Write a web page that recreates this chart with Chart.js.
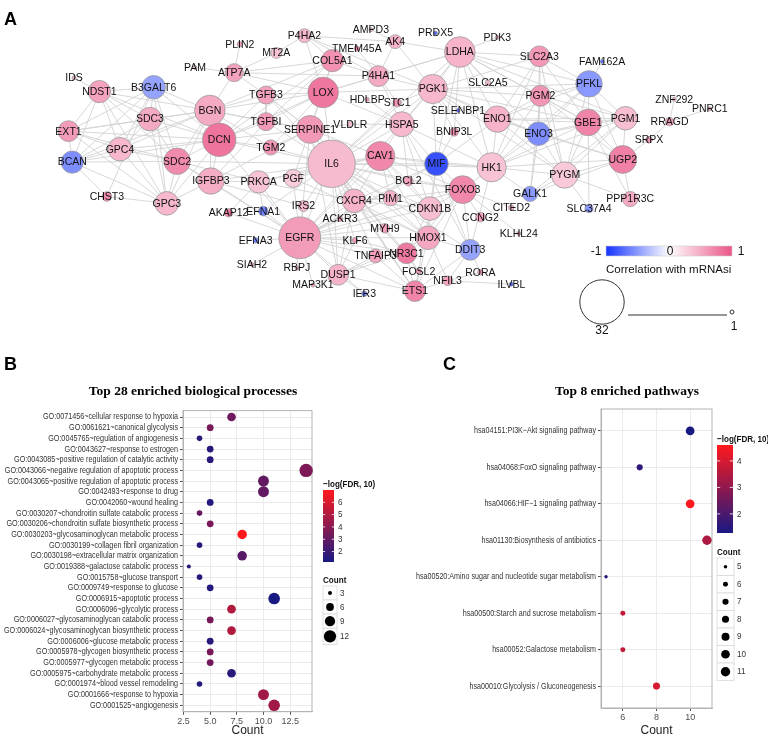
<!DOCTYPE html>
<html>
<head>
<meta charset="utf-8">
<script src="https://cdn.jsdelivr.net/npm/chart.js@4.4.1/dist/chart.umd.min.js"></script>
<style>
html, body { margin: 0; padding: 0; background: #fff; }
#wrap { position: relative; width: 768px; height: 738px; overflow: hidden; }
.box { position: absolute; }
</style>
</head>
<body>
<div id="wrap">
  <div class="box" style="left:0;top:0;width:768px;height:350px"><canvas id="netChart"></canvas></div>
  <div class="box" style="left:0;top:350px;width:375px;height:388px"><canvas id="goChart"></canvas></div>
  <div class="box" style="left:375px;top:350px;width:393px;height:388px"><canvas id="keggChart"></canvas></div>
</div>
<script>
// ---- panel A : network (layout) ----
var geneNames = ['IDS','PAM','PLIN2','NDST1','B3GALT6','ATP7A','MT2A','P4HA2','AMPD3','TMEM45A','AK4','PRDX5','PDK3','LDHA','COL5A1','P4HA1','PGK1','SLC2A5','SLC2A3','FAM162A','PFKL','PGM2','ZNF292','PNRC1','BGN','TGFB3','LOX','HDLBP','STC1','SELENBP1','ENO1','GBE1','PGM1','RRAGD','SDC3','EXT1','TGFBI','SERPINE1','VLDLR','HSPA5','BNIP3L','ENO3','SRPX','DCN','GPC4','TGM2','IL6','CAV1','MIF','HK1','UGP2','BCAN','SDC2','PYGM','IGFBP3','PRKCA','PGF','BCL2','FOXO3','GALK1','PPP1R3C','CHST3','GPC3','AKAP12','EFNA1','IRS2','CXCR4','PIM1','CDKN1B','CITED2','SLC37A4','ACKR3','CCNG2','MYH9','KLHL24','EFNA3','EGFR','KLF6','HMOX1','DDIT3','TNFAIP3','NR3C1','SIAH2','RBPJ','DUSP1','FOSL2','RORA','NFIL3','MAP3K1','IER3','ETS1','ILVBL'];
var geneX = [53,182,230,80,138,224,269,299,370,355,396,439,505,465,329,378,436,495,550,617,603,551,694,732,198,258,319,366,398,463,505,602,642,689,134,47,258,305,348,403,459,549,667,208,102,263,328,380,440,499,639,51,163,577,199,250,287,410,468,540,647,88,152,218,255,298,352,391,433,520,603,337,487,385,528,247,294,353,431,476,375,408,243,291,335,421,487,452,308,363,417,520];
var geneY = [62,50,23,78,73,56,33,13,6,28,20,10,15,32,42,60,75,68,37,43,69,83,87,98,100,82,79,87,91,100,110,114,109,113,110,124,113,122,116,116,125,127,134,134,145,143,162,153,162,166,157,160,159,175,182,183,179,182,192,197,203,200,208,219,217,211,205,202,214,213,214,226,224,237,243,251,248,251,248,262,269,266,279,283,291,287,288,298,303,313,310,302];
var geneDegree = [1,1,2,14,15,11,6,8,1,2,8,1,1,20,14,13,19,2,13,1,17,13,1,1,20,11,20,1,4,1,17,17,15,4,15,13,11,18,2,16,4,15,3,22,15,9,32,19,15,19,18,14,17,17,17,14,11,5,18,9,9,5,15,4,5,6,15,9,15,2,4,2,5,5,1,2,28,2,15,13,8,13,1,1,13,2,2,5,1,2,13,1];
var geneCorr = [0.5,0.4,0.6,0.55,-0.45,0.55,0.35,0.42,0.4,0.7,0.45,-0.7,0.5,0.45,0.65,0.5,0.42,0.4,0.6,-0.7,-0.5,0.62,0.5,0.5,0.5,0.55,0.8,0.6,0.6,-0.7,0.45,0.72,0.38,0.55,0.5,0.58,0.6,0.6,0.4,0.42,0.65,-0.55,0.6,0.82,0.42,0.62,0.4,0.7,-0.85,0.35,0.75,-0.55,0.68,0.32,0.48,0.35,0.3,0.55,0.7,-0.5,0.5,0.68,0.42,0.75,-0.6,0.4,0.45,0.45,0.38,0.5,-0.5,0.6,0.55,0.55,0.6,-0.6,0.58,0.6,0.52,-0.45,0.55,0.78,0.5,0.6,0.45,0.6,0.6,0.55,0.6,-0.6,0.72,-0.8];
// first gene of each line is linked to every other gene on that line
var edgeGroups = [
  'NDST1 B3GALT6 EXT1 SDC3 SDC2 GPC4 GPC3 BCAN IDS DCN BGN',
  'B3GALT6 SDC3 SDC2 GPC4 GPC3 BCAN EXT1 BGN DCN CHST3',
  'EXT1 SDC3 GPC4 GPC3 BCAN SDC2 BGN DCN',
  'SDC3 GPC4 GPC3 SDC2 BCAN BGN DCN',
  'GPC4 GPC3 BCAN SDC2 BGN DCN',
  'BCAN GPC3 SDC2 DCN BGN CHST3',
  'SDC2 GPC3 DCN BGN IGFBP3 PRKCA IL6 EGFR',
  'GPC3 DCN BGN IGFBP3 CHST3',
  'BGN DCN TGFB3 TGFBI LOX SERPINE1 COL5A1 ATP7A IGFBP3 TGM2',
  'DCN TGFB3 TGFBI LOX SERPINE1 COL5A1 IGFBP3 TGM2 EGFR IL6',
  'ATP7A PAM LOX COL5A1 P4HA1 MT2A TGFB3 PLIN2',
  'LOX COL5A1 P4HA1 P4HA2 SERPINE1 TGFBI TGFB3 IL6 HSPA5 PGK1 LDHA TGM2',
  'COL5A1 P4HA1 P4HA2 SERPINE1 TGFBI',
  'P4HA1 P4HA2 PGK1 LDHA AK4 HSPA5 STC1 TMEM45A',
  'P4HA2 AK4 PGK1 MT2A',
  'AK4 AMPD3 PGK1 LDHA',
  'SERPINE1 TGFBI TGFB3 IL6 EGFR CAV1 IGFBP3 PGF HMOX1 CXCR4 VLDLR DUSP1 ETS1',
  'IGFBP3 PRKCA IL6 EGFR TGFBI IRS2',
  'PRKCA IL6 EGFR CAV1 AKAP12 EFNA1 CXCR4',
  'TGFB3 TGFBI SERPINE1 IL6',
  'TGFBI IL6',
  'TGM2 IL6 SERPINE1',
  'PGF IL6 EGFR HMOX1 CAV1',
  'IL6 EGFR CAV1 CXCR4 HMOX1 FOXO3 CDKN1B MIF HK1 DUSP1 ETS1 PIM1 BCL2 HSPA5 IRS2 NR3C1 TNFAIP3 KLF6 ACKR3 EFNA1 MYH9 DDIT3 STC1 PGK1 LDHA FOSL2',
  'EGFR CAV1 CXCR4 HMOX1 FOXO3 CDKN1B DUSP1 ETS1 PIM1 BCL2 IRS2 EFNA1 EFNA3 AKAP12 RBPJ MAP3K1 SIAH2 NR3C1 MYH9 KLF6 HSPA5 MIF ACKR3 TNFAIP3 IER3',
  'CAV1 HSPA5 CXCR4 HMOX1 FOXO3 CDKN1B MIF HK1 BCL2 PIM1',
  'CXCR4 HMOX1 MIF ACKR3 PIM1 CDKN1B DUSP1 ETS1 NR3C1',
  'HSPA5 PGK1 MIF DDIT3 BCL2 LDHA HK1 VLDLR CDKN1B HDLBP',
  'MIF PGK1 HK1 LDHA ENO1 FOXO3 CDKN1B HMOX1 BNIP3L DDIT3',
  'FOXO3 CDKN1B HMOX1 CCNG2 HK1 BCL2 PIM1 DDIT3 ETS1 CITED2 NR3C1 KLHL24',
  'CDKN1B HMOX1 PIM1 ETS1 BCL2 NR3C1',
  'HMOX1 ETS1 DDIT3 NR3C1 DUSP1 NFIL3',
  'DDIT3 NFIL3 HK1 ETS1 RORA',
  'ETS1 NFIL3 DUSP1 NR3C1 FOSL2 TNFAIP3',
  'NR3C1 DUSP1 TNFAIP3 FOSL2 KLF6',
  'DUSP1 TNFAIP3 MAP3K1 IER3 KLF6',
  'NFIL3 RORA ILVBL',
  'LDHA PGK1 ENO1 HK1 SLC2A3 PGM2 PFKL GBE1 PGM1 ENO3 PDK3 SLC2A5 BNIP3L',
  'PGK1 ENO1 HK1 SLC2A3 PGM2 PFKL ENO3 PYGM GBE1 BNIP3L STC1 SELENBP1',
  'ENO1 HK1 SLC2A3 PGM2 PFKL ENO3 PYGM GBE1 PGM1 UGP2',
  'HK1 SLC2A3 PGM2 PFKL ENO3 PYGM GBE1 PGM1 UGP2 GALK1',
  'SLC2A3 PGM2 PFKL ENO3 GBE1 PYGM',
  'PGM2 PFKL ENO3 GBE1 PGM1 UGP2 PYGM GALK1',
  'PFKL ENO3 GBE1 PGM1 UGP2 PYGM FAM162A',
  'ENO3 GBE1 PGM1 UGP2 PYGM GALK1',
  'GBE1 PGM1 UGP2 PYGM PPP1R3C SLC37A4',
  'PGM1 UGP2 PYGM GALK1',
  'UGP2 PYGM PPP1R3C SRPX GALK1',
  'PYGM PPP1R3C SLC37A4 GALK1',
  'RRAGD ZNF292 PNRC1 SRPX'
];
var corrLegendTicks = [-1, 0, 1];
var sizeLegendDegrees = [32, 1];

// ---- panel B : GO biological processes ----
var goTerms = ['GO:0071456~cellular response to hypoxia','GO:0061621~canonical glycolysis','GO:0045765~regulation of angiogenesis','GO:0043627~response to estrogen','GO:0043085~positive regulation of catalytic activity','GO:0043066~negative regulation of apoptotic process','GO:0043065~positive regulation of apoptotic process','GO:0042493~response to drug','GO:0042060~wound healing','GO:0030207~chondroitin sulfate catabolic process','GO:0030206~chondroitin sulfate biosynthetic process','GO:0030203~glycosaminoglycan metabolic process','GO:0030199~collagen fibril organization','GO:0030198~extracellular matrix organization','GO:0019388~galactose catabolic process','GO:0015758~glucose transport','GO:0009749~response to glucose','GO:0006915~apoptotic process','GO:0006096~glycolytic process','GO:0006027~glycosaminoglycan catabolic process','GO:0006024~glycosaminoglycan biosynthetic process','GO:0006006~glucose metabolic process','GO:0005978~glycogen biosynthetic process','GO:0005977~glycogen metabolic process','GO:0005975~carbohydrate metabolic process','GO:0001974~blood vessel remodeling','GO:0001666~response to hypoxia','GO:0001525~angiogenesis'];
var goCount = [7,5,4,5,5,14,10,10,5,4,5,8,4,8,3,4,5,11,7,5,7,5,5,5,7,4,10,11];
var goLogFdr = [3.3,3.6,1.6,1.5,1.5,3.7,3.0,3.0,1.4,3.1,3.6,7.0,1.5,2.7,1.5,1.5,1.4,1.15,5.0,3.6,5.0,1.5,3.6,3.4,1.6,1.4,4.6,4.6];
var goXTicks = [2.5, 5, 7.5, 10, 12.5];
var goFdrTicks = [2,3,4,5,6];
var goCountTicks = [3,6,9,12];

// ---- panel C : KEGG pathways ----
var keggTerms = ['hsa04151:PI3K\u2212Akt signaling pathway','hsa04068:FoxO signaling pathway','hsa04066:HIF\u22121 signaling pathway','hsa01130:Biosynthesis of antibiotics','hsa00520:Amino sugar and nucleotide sugar metabolism','hsa00500:Starch and sucrose metabolism','hsa00052:Galactose metabolism','hsa00010:Glycolysis / Gluconeogenesis'];
var keggCount = [10,7,10,11,5,6,6,8];
var keggLogFdr = [1.28,1.6,4.6,3.4,1.5,3.7,3.7,4.0];
var keggXTicks = [6, 8, 10];
var keggFdrTicks = [2,3,4];
var keggCountTicks = [5,6,7,8,9,10,11];

var SANS = '"Liberation Sans", Arial, sans-serif';
var SERIF = '"Liberation Serif", "Times New Roman", serif';

function mix(a, b, t) {
  return a.map(function (v, i) { return Math.round(v + (b[i] - v) * t); });
}
function corrColor(c) {
  var rgb = c < 0 ? mix([255,255,255], [20,50,255], -c) : mix([255,255,255], [235,85,135], c);
  return 'rgb(' + rgb.join(',') + ')';
}
function nodeRadius(d) { return 2 + (d - 1) * 0.7; }
function fdrColor(v, lo, hi) {
  var t = Math.max(0, Math.min(1, (v - lo) / (hi - lo)));
  return 'rgb(' + mix([25,25,130], [255,25,30], t).join(',') + ')';
}
function goRadius(c) { return Math.sqrt(Math.max(1, 3.7 * c - 7)); }
function keggRadius(c) { return Math.sqrt(Math.max(1, 3.2 * c - 13)); }

var goLo = Math.min.apply(null, goLogFdr), goHi = Math.max.apply(null, goLogFdr);
var keggLo = Math.min.apply(null, keggLogFdr), keggHi = Math.max.apply(null, keggLogFdr);

// edges as one line dataset, broken by null points
var geneIndex = {};
geneNames.forEach(function (n, i) { geneIndex[n] = i; });
var edgePoints = [];
edgeGroups.forEach(function (line) {
  var parts = line.split(' ');
  var a = geneIndex[parts[0]];
  parts.slice(1).forEach(function (n) {
    var b = geneIndex[n];
    if (a === undefined || b === undefined) { console.warn('missing gene', parts[0], n); return; }
    edgePoints.push({x: geneX[a], y: geneY[a]}, {x: geneX[b], y: geneY[b]}, {x: null, y: null});
  });
});

function text(ctx, str, x, y, font, color, align, base) {
  ctx.font = font;
  ctx.fillStyle = color || '#111';
  ctx.textAlign = align || 'left';
  ctx.textBaseline = base || 'alphabetic';
  ctx.fillText(str, x, y);
}
// horizontally condensed text (the figure uses a narrow face)
function narrowText(ctx, str, x, y, font, color, align, base, sx) {
  ctx.save();
  ctx.translate(x, y);
  ctx.scale(sx, 1);
  text(ctx, str, 0, 0, font, color, align, base);
  ctx.restore();
}

var netDecor = {
  id: 'netDecor',
  afterDatasetsDraw: function (chart) {
    var ctx = chart.ctx;
    var meta = chart.getDatasetMeta(0);
    ctx.save();
    meta.data.forEach(function (el, i) {
      text(ctx, geneNames[i], el.x, el.y + 0.5, '10.5px ' + SANS, '#111', 'center', 'middle');
    });
    ctx.restore();
  },
  afterDraw: function (chart) {
    var ctx = chart.ctx;
    ctx.save();
    text(ctx, 'A', 4, 25, 'bold 18px ' + SANS, '#000');
    // correlation colour bar
    var g = ctx.createLinearGradient(606, 0, 732, 0);
    g.addColorStop(0, corrColor(-1)); g.addColorStop(0.5, corrColor(0)); g.addColorStop(1, corrColor(1));
    ctx.fillStyle = g;
    ctx.fillRect(606, 246, 126, 10);
    ctx.strokeStyle = '#ccc'; ctx.lineWidth = 0.6;
    ctx.strokeRect(606, 246, 126, 10);
    corrLegendTicks.forEach(function (v) {
      var x = v === -1 ? 596 : (v === 0 ? 670 : 741);
      text(ctx, String(v), x, 252, '12px ' + SANS, '#111', 'center', 'middle');
    });
    text(ctx, 'Correlation with mRNAsi', 606, 273, '11.5px ' + SANS, '#111');
    // node size legend
    ctx.strokeStyle = '#333'; ctx.lineWidth = 1;
    ctx.beginPath(); ctx.arc(602, 302, nodeRadius(sizeLegendDegrees[0]) - 1.5, 0, Math.PI * 2); ctx.stroke();
    ctx.beginPath(); ctx.arc(732, 312, nodeRadius(sizeLegendDegrees[1]), 0, Math.PI * 2); ctx.stroke();
    ctx.lineWidth = 1.2;
    ctx.beginPath(); ctx.moveTo(628, 315); ctx.lineTo(727, 315); ctx.stroke();
    text(ctx, String(sizeLegendDegrees[0]), 602, 334, '12px ' + SANS, '#111', 'center');
    text(ctx, String(sizeLegendDegrees[1]), 734, 330, '12px ' + SANS, '#111', 'center');
    ctx.restore();
  }
};

new Chart(document.getElementById('netChart'), {
  type: 'bubble',
  data: {
    datasets: [{
      label: 'genes',
      data: geneNames.map(function (n, i) { return {x: geneX[i], y: geneY[i], r: nodeRadius(geneDegree[i])}; }),
      backgroundColor: geneCorr.map(corrColor),
      borderColor: '#9a9a9a',
      borderWidth: 0.8,
      clip: false,
      order: 0
    }, {
      type: 'line',
      label: 'edges',
      data: edgePoints,
      borderColor: '#d3d3d3',
      borderWidth: 0.9,
      pointRadius: 0,
      spanGaps: false,
      fill: false,
      tension: 0,
      clip: false,
      order: 1
    }]
  },
  options: {
    responsive: true, maintainAspectRatio: false, animation: false, events: [],
    layout: {padding: 0},
    plugins: {legend: {display: false}, tooltip: {enabled: false}},
    scales: {
      x: {type: 'linear', min: 0, max: 768, display: false},
      y: {type: 'linear', min: 0, max: 350, reverse: true, display: false}
    }
  },
  plugins: [netDecor]
});

// shared drawing for the two dot plots
function dotDecor(cfg) {
  return {
    id: 'dotDecor',
    beforeDatasetsDraw: function (chart) {
      var a = chart.chartArea, ctx = chart.ctx;
      ctx.save();
      ctx.strokeStyle = '#b3b3b3'; ctx.lineWidth = 1;
      ctx.strokeRect(a.left, a.top, a.right - a.left, a.bottom - a.top);
      ctx.restore();
    },
    afterDraw: function (chart) {
      var ctx = chart.ctx, a = chart.chartArea, ys = chart.scales.y;
      ctx.save();
      // category labels, condensed to the width they take in the figure
      ctx.font = '9px ' + SANS;
      var widest = 0;
      cfg.labels.forEach(function (l) { widest = Math.max(widest, ctx.measureText(l).width); });
      var sx = Math.min(1, cfg.labelW / widest);
      cfg.labels.forEach(function (l, i) {
        narrowText(ctx, l, a.left - 5, ys.getPixelForValue(i), '9px ' + SANS, '#333', 'right', 'middle', sx);
      });
      text(ctx, cfg.letter, cfg.letterX, 20, 'bold 18px ' + SANS, '#000');
      text(ctx, cfg.title, cfg.titleX, 45, 'bold 13.5px ' + SERIF, '#000', 'center');
      // colour bar
      var b = cfg.bar;
      narrowText(ctx, '\u2212log(FDR, 10)', b.x, b.y - 3, 'bold 9.5px ' + SANS, '#111', 'left', 'alphabetic', 0.85);
      var g = ctx.createLinearGradient(0, b.y + b.h, 0, b.y);
      for (var k = 0; k <= 10; k++) g.addColorStop(k / 10, fdrColor(cfg.lo + (cfg.hi - cfg.lo) * k / 10, cfg.lo, cfg.hi));
      ctx.fillStyle = g;
      ctx.fillRect(b.x, b.y, b.w, b.h);
      cfg.fdrTicks.forEach(function (v) {
        var y = b.y + b.h - (v - cfg.lo) / (cfg.hi - cfg.lo) * b.h;
        ctx.strokeStyle = '#fff'; ctx.lineWidth = 0.8;
        ctx.beginPath(); ctx.moveTo(b.x, y); ctx.lineTo(b.x + b.w * 0.2, y);
        ctx.moveTo(b.x + b.w * 0.8, y); ctx.lineTo(b.x + b.w, y); ctx.stroke();
        narrowText(ctx, String(v), b.x + b.w + 4, y, '9.5px ' + SANS, '#333', 'left', 'middle', 0.85);
      });
      // count legend
      var s = cfg.size;
      narrowText(ctx, 'Count', s.x, s.y, 'bold 9.5px ' + SANS, '#111', 'left', 'alphabetic', 0.85);
      var y0 = s.y + 3;
      cfg.countTicks.forEach(function (c) {
        var r = cfg.radius(c);
        var h = Math.max(s.key, 2 * r + 4);
        ctx.fillStyle = '#fff'; ctx.strokeStyle = '#d9d9d9'; ctx.lineWidth = 0.8;
        ctx.fillRect(s.x, y0, s.keyW, h); ctx.strokeRect(s.x, y0, s.keyW, h);
        ctx.fillStyle = '#000';
        ctx.beginPath(); ctx.arc(s.x + s.keyW / 2, y0 + h / 2, r, 0, Math.PI * 2); ctx.fill();
        narrowText(ctx, String(c), s.x + s.keyW + 3, y0 + h / 2, '9.5px ' + SANS, '#333', 'left', 'middle', 0.85);
        y0 += h;
      });
      ctx.restore();
    }
  };
}

function dotOptions(o) {
  return {
    responsive: true, maintainAspectRatio: false, animation: false, events: [],
    layout: {padding: {top: o.top, right: o.right, left: 0, bottom: 0}},
    plugins: {legend: {display: false}, tooltip: {enabled: false}},
    scales: {
      x: {
        type: 'linear', min: o.xmin, max: o.xmax,
        ticks: {autoSkip: false, maxRotation: 0, callback: o.xfmt, font: {size: 9, family: SANS}, color: '#4d4d4d', padding: 1},
        afterBuildTicks: function (s) {
          s.ticks = o.xticks.map(function (v) { return {value: v}; });
        },
        grid: {color: '#ebebeb', tickColor: '#4d4d4d', tickLength: 3},
        border: {color: '#b3b3b3'},
        title: {display: true, text: 'Count', font: {size: 12, family: SANS}, color: '#222', padding: 0},
        afterFit: function (s) { s.height = o.xh; }
      },
      y: {
        type: 'linear', reverse: true, min: -0.6, max: o.labels.length - 0.4,
        ticks: {display: false},
        afterBuildTicks: function (s) {
          s.ticks = o.labels.map(function (l, i) { return {value: i}; });
        },
        grid: {color: '#ebebeb', tickColor: '#4d4d4d', tickLength: 3},
        border: {color: '#b3b3b3'},
        afterFit: function (s) { s.width = o.yw; }
      }
    }
  };
}

new Chart(document.getElementById('goChart'), {
  type: 'bubble',
  data: {
    datasets: [{
      data: goTerms.map(function (t, i) { return {x: goCount[i], y: i, r: goRadius(goCount[i])}; }),
      backgroundColor: goLogFdr.map(function (v) { return fdrColor(v, goLo, goHi); }),
      borderWidth: 0,
      clip: false
    }]
  },
  options: dotOptions({top: 60.6, right: 63, xmin: 2.45, xmax: 14.55, xticks: goXTicks, xh: 26.3, yw: 183, labels: goTerms,
    xfmt: function (v) { return v.toFixed(1); }}),
  plugins: [dotDecor({letter: 'B', letterX: 4, title: 'Top 28 enriched biological processes', titleX: 193,
    labels: goTerms, labelW: 174,
    lo: goLo, hi: goHi, fdrTicks: goFdrTicks, countTicks: goCountTicks, radius: goRadius,
    bar: {x: 323, y: 140, w: 11, h: 72}, size: {x: 323, y: 233, key: 14, keyW: 14}})]
});

new Chart(document.getElementById('keggChart'), {
  type: 'bubble',
  data: {
    datasets: [{
      data: keggTerms.map(function (t, i) { return {x: keggCount[i], y: i, r: keggRadius(keggCount[i])}; }),
      backgroundColor: keggLogFdr.map(function (v) { return fdrColor(v, keggLo, keggHi); }),
      borderWidth: 0,
      clip: false
    }]
  },
  options: dotOptions({top: 59, right: 56, xmin: 4.7, xmax: 11.3, xticks: keggXTicks, xh: 30, yw: 226, labels: keggTerms,
    xfmt: function (v) { return String(v); }}),
  plugins: [dotDecor({letter: 'C', letterX: 68, title: 'Top 8 enriched pathways', titleX: 252,
    labels: keggTerms, labelW: 180,
    lo: keggLo, hi: keggHi, fdrTicks: keggFdrTicks, countTicks: keggCountTicks, radius: keggRadius,
    bar: {x: 342, y: 95, w: 16, h: 88}, size: {x: 342, y: 205, key: 17.5, keyW: 17}})]
});
</script>
</body>
</html>
